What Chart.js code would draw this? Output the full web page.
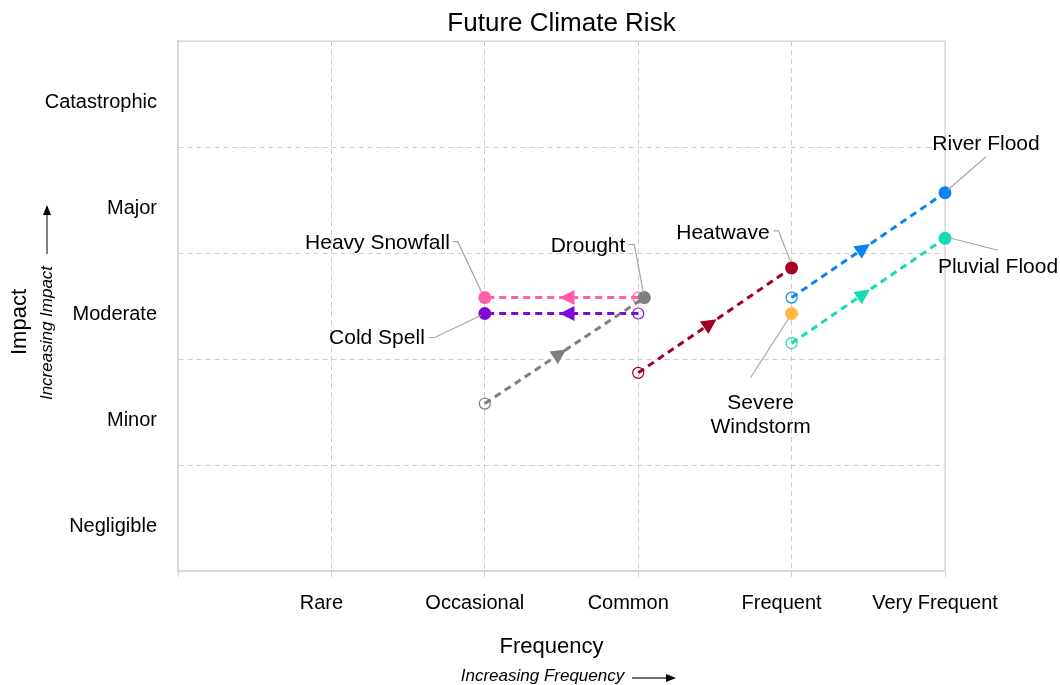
<!DOCTYPE html>
<html>
<head>
<meta charset="utf-8">
<script src="https://cdn.jsdelivr.net/npm/chart.js@4.4.0/dist/chart.umd.min.js"></script>
<style>
  html, body { margin: 0; padding: 0; background: #fff; }
  #wrap { width: 1060px; height: 685px; }
</style>
</head>
<body>
<div id="wrap"><canvas id="riskchart"></canvas></div>
<script>
const frequencyLabels = ['', 'Rare', 'Occasional', 'Common', 'Frequent', 'Very Frequent'];
const impactLabels = ['', 'Negligible', 'Minor', 'Moderate', 'Major', 'Catastrophic'];

const hazards = ['Drought', 'Heavy Snowfall', 'Cold Spell', 'Heatwave', 'Severe Windstorm', 'River Flood', 'Pluvial Flood'];
// current position -> future position (frequency, impact)
const freqNow      = [2,    3,    3,    3,    4,    4,    4];
const impactNow    = [1.58, 2.58, 2.43, 1.87, 2.43, 2.58, 2.15];
const freqFuture   = [3.04, 2,    2,    4,    4,    5,    5];
const impactFuture = [2.58, 2.58, 2.43, 2.86, 2.43, 3.57, 3.14];

const colours = ['#7f7f7f', '#ff5fa8', '#7d0ad6', '#a50021', '#ffb93f', '#0a84f5', '#14dbb0'];

const FONT = '"Liberation Sans", Arial, sans-serif';

// where each hazard's label + leader line sits, relative to its future point (px)
const labelSpots = {
  'Drought':          {lead: [[-1, -5], [-10, -53], [-16, -53]], text: [[-19, -51]], align: 'right'},
  'Heavy Snowfall':   {lead: [[-3, -5], [-27, -56], [-32, -56]], text: [[-35, -54]], align: 'right'},
  'Cold Spell':       {lead: [[-4, 2], [-50, 24], [-56, 24]], text: [[-60, 25]], align: 'right'},
  'Heatwave':         {lead: [[-1, -6], [-13, -37], [-18, -37]], text: [[-22, -35]], align: 'right'},
  'Severe Windstorm': {lead: [[-3, 5], [-41, 64]], text: [[-31, 90], [-31, 114]], lines: ['Severe', 'Windstorm'], align: 'center'},
  'River Flood':      {lead: [[3, -3], [41, -36]], text: [[41, -49]], align: 'center'},
  'Pluvial Flood':    {lead: [[6, 0], [53, 12]], text: [[53, 29]], align: 'center'}
};

const datasets = hazards.map(function(name, i) {
  const moves = freqNow[i] !== freqFuture[i] || impactNow[i] !== impactFuture[i];
  const pts = moves
    ? [{x: freqNow[i], y: impactNow[i]}, {x: freqFuture[i], y: impactFuture[i]}]
    : [{x: freqFuture[i], y: impactFuture[i]}];
  return {
    label: name,
    data: pts,
    showLine: moves,
    clip: false,
    borderColor: colours[i],
    borderWidth: 3,
    borderDash: [7, 5],
    pointRadius: moves ? [5.5, 6.5] : 6.5,
    pointBorderWidth: moves ? [1.2, 0] : 0,
    pointBorderColor: colours[i],
    pointBackgroundColor: moves ? ['rgba(0,0,0,0)', colours[i]] : colours[i]
  };
});

const riskDecor = {
  id: 'riskDecor',
  beforeDatasetsDraw(chart) {
    const {ctx, chartArea: a} = chart;
    ctx.save();
    ctx.strokeStyle = '#d9d9d9';
    ctx.lineWidth = 1.5;
    ctx.strokeRect(a.left, a.top, a.right - a.left, a.bottom - a.top);
    ctx.restore();
  },
  afterDatasetsDraw(chart) {
    const {ctx, chartArea: a} = chart;
    ctx.save();

    // arrow heads half way along each move
    chart.data.datasets.forEach(function(ds, i) {
      const pts = chart.getDatasetMeta(i).data;
      if (pts.length < 2) return;
      const p0 = pts[0], p1 = pts[1];
      const ang = Math.atan2(p1.y - p0.y, p1.x - p0.x);
      const mx = (p0.x + p1.x) / 2, my = (p0.y + p1.y) / 2;
      ctx.save();
      ctx.translate(mx, my);
      ctx.rotate(ang);
      ctx.fillStyle = ds.borderColor;
      ctx.beginPath();
      ctx.moveTo(2, 0);
      ctx.lineTo(-13, -7.5);
      ctx.lineTo(-13, 7.5);
      ctx.closePath();
      ctx.fill();
      ctx.restore();
    });

    // hazard labels with leader lines
    ctx.font = '21px ' + FONT;
    ctx.textBaseline = 'middle';
    chart.data.datasets.forEach(function(ds, i) {
      const spot = labelSpots[ds.label];
      const pts = chart.getDatasetMeta(i).data;
      const p = pts[pts.length - 1];
      ctx.strokeStyle = '#a6a6a6';
      ctx.lineWidth = 1.2;
      ctx.beginPath();
      spot.lead.forEach(function(o, k) {
        if (k === 0) ctx.moveTo(p.x + o[0], p.y + o[1]);
        else ctx.lineTo(p.x + o[0], p.y + o[1]);
      });
      ctx.stroke();
      ctx.fillStyle = '#000';
      ctx.textAlign = spot.align;
      const lines = spot.lines || [ds.label];
      lines.forEach(function(t, k) {
        ctx.fillText(t, p.x + spot.text[k][0], p.y + spot.text[k][1]);
      });
    });

    // axis titles
    const cx = (a.left + a.right) / 2;
    ctx.fillStyle = '#000';
    ctx.textAlign = 'center';
    ctx.font = '22px ' + FONT;
    ctx.fillText('Frequency', cx - 10, 647);
    ctx.font = 'italic 17px ' + FONT;
    ctx.fillText('Increasing Frequency', cx - 19, 676);

    ctx.save();
    ctx.translate(20, 322);
    ctx.rotate(-Math.PI / 2);
    ctx.font = '22px ' + FONT;
    ctx.fillText('Impact', 0, 0);
    ctx.restore();

    ctx.save();
    ctx.translate(47, 333);
    ctx.rotate(-Math.PI / 2);
    ctx.font = 'italic 17px ' + FONT;
    ctx.fillText('Increasing Impact', 0, 0);
    ctx.restore();

    // little direction arrows
    ctx.strokeStyle = '#404040';
    ctx.fillStyle = '#000';
    ctx.lineWidth = 1.3;
    ctx.beginPath();
    ctx.moveTo(632, 678); ctx.lineTo(667, 678);
    ctx.moveTo(47, 254); ctx.lineTo(47, 214);
    ctx.stroke();
    ctx.beginPath();
    ctx.moveTo(676, 678); ctx.lineTo(666, 674); ctx.lineTo(666, 682); ctx.closePath();
    ctx.moveTo(47, 205); ctx.lineTo(43, 215); ctx.lineTo(51, 215); ctx.closePath();
    ctx.fill();

    ctx.restore();
  }
};

new Chart(document.getElementById('riskchart'), {
  type: 'scatter',
  data: { datasets: datasets },
  plugins: [riskDecor],
  options: {
    responsive: true,
    maintainAspectRatio: false,
    animation: false,
    events: [],
    layout: { padding: { left: 0, right: 115, top: 0, bottom: 0 } },
    plugins: {
      legend: { display: false },
      tooltip: { enabled: false },
      title: {
        display: true,
        text: 'Future Climate Risk',
        fullSize: false,
        color: '#000',
        font: { family: FONT, size: 26, weight: 'normal' },
        padding: { top: 8, bottom: 2 }
      }
    },
    scales: {
      x: {
        type: 'linear',
        min: 0,
        max: 5,
        afterFit(scale) { scale.height = 114; },
        grid: { color: '#cccccc', lineWidth: 1, tickLength: 6, tickColor: '#d0d0d0' },
        border: { display: true, color: '#d9d9d9', width: 1.5, dash: [5, 4] },
        ticks: {
          stepSize: 1,
          autoSkip: false,
          maxRotation: 0,
          labelOffset: -10,
          padding: 14,
          color: '#000',
          font: { family: FONT, size: 20 },
          callback: function(v) { return frequencyLabels[v]; }
        }
      },
      y: {
        type: 'linear',
        min: 0,
        max: 5,
        afterFit(scale) { scale.width = 178; },
        grid: { color: '#cccccc', lineWidth: 1, drawTicks: false },
        border: { display: true, color: '#d9d9d9', width: 1.5, dash: [5, 4] },
        ticks: {
          stepSize: 1,
          autoSkip: false,
          labelOffset: 61,
          padding: 21,
          color: '#000',
          font: { family: FONT, size: 20 },
          callback: function(v) { return impactLabels[v]; }
        }
      }
    }
  }
});
</script>
</body>
</html>
